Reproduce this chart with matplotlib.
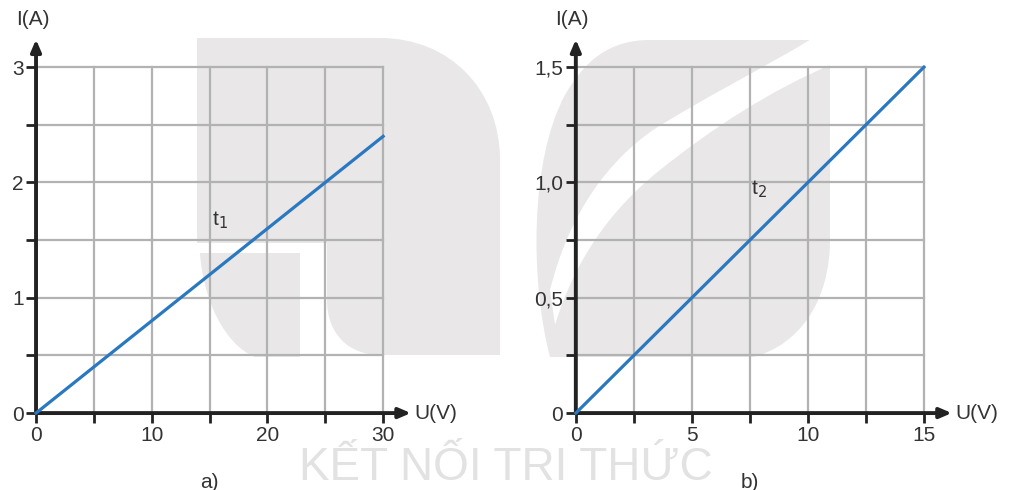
import matplotlib.pyplot as plt
from matplotlib.ticker import MultipleLocator
from matplotlib.path import Path
from matplotlib.patches import PathPatch

plt.rcParams['font.family'] = ['Liberation Sans', 'DejaVu Sans']

# data
u_a = [0, 30]
i_a = [0, 2.4]
u_b = [0, 15]
i_b = [0, 1.5]
xticks_a = [0, 10, 20, 30]
yticks_a = [0, 1, 2, 3]
xticks_b = [0, 5, 10, 15]
yticks_b = [0, 0.5, 1.0, 1.5]
ylabels_b = ['0', '0,5', '1,0', '1,5']

line_color = '#2a78c0'
grid_color = '#b2b2b2'
text_color = '#333333'
wm_color = '#e9e7e7'

fig = plt.figure(figsize=(10.12, 4.9), dpi=100)

# background watermark (logo shapes), in pixel coordinates
bg = fig.add_axes([0, 0, 1, 1], zorder=-1)
bg.set_xlim(0, 1012)
bg.set_ylim(490, 0)
bg.axis('off')

M, L, C, Z = Path.MOVETO, Path.LINETO, Path.CURVE4, Path.CLOSEPOLY


def shape(verts, codes, color):
    bg.add_patch(PathPatch(Path(verts, codes), facecolor=color, edgecolor='none'))


# left logo: top block + right leg
shape([(197, 38), (380, 38), (450, 38), (500, 90), (500, 160), (500, 355),
       (380, 355), (350, 355), (327, 335), (327, 300), (327, 243), (197, 243),
       (197, 38)],
      [M, L, C, C, C, L, L, C, C, C, L, L, Z], wm_color)
# left logo: stem
shape([(200, 253), (300, 253), (300, 357), (255, 357), (225, 345), (203, 300),
       (200, 253), (200, 253)],
      [M, L, L, L, C, C, C, Z], wm_color)
# right logo: leaf outline
shape([(550, 357), (530, 280), (530, 160), (565, 95), (585, 60), (610, 40),
       (650, 40), (813, 40), (825, 45), (830, 55), (830, 70), (830, 240),
       (830, 300), (800, 345), (753, 357), (550, 357), (550, 357)],
      [M, C, C, C, C, C, C, L, C, C, C, L, C, C, C, L, Z], wm_color)
# right logo: white band
shape([(813, 38), (760, 70), (700, 100), (653, 130), (610, 160), (570, 210),
       (550, 290), (555, 325), (575, 260), (610, 210), (660, 170), (710, 130),
       (770, 90), (835, 63), (835, 38), (813, 38)],
      [M, C, C, C, C, C, C, L, C, C, C, C, C, C, L, Z], 'white')

# watermark text
fig.text(0.50, 0.0, 'KẾT NỐI TRI THỨC', ha='center', va='bottom', fontsize=33,
         family=['Liberation Sans Narrow', 'Liberation Sans'], fontstretch='condensed',
         color='#e2e2e2', zorder=-0.5)


def setup(ax, xmax, ymax, xstep, ystep, xticks, yticks, ylabels, sub):
    ax.set_xlim(0, xmax)
    ax.set_ylim(0, ymax)
    ax.set_facecolor('none')
    for s in ax.spines.values():
        s.set_visible(False)
    ax.xaxis.set_minor_locator(MultipleLocator(xstep))
    ax.yaxis.set_minor_locator(MultipleLocator(ystep))
    ax.set_xticks(xticks)
    ax.set_yticks(yticks)
    ax.set_yticklabels(ylabels)
    ax.grid(True, which='both', color=grid_color, lw=1.6, clip_on=False)
    ax.tick_params(which='both', length=7, width=2, color='#222222',
                   labelsize=15, labelcolor=text_color, pad=2)
    # axes with arrows
    ax.annotate('', xy=(0, 1.08), xytext=(0, 0), xycoords='axes fraction',
                arrowprops=dict(arrowstyle='-|>,head_length=0.7,head_width=0.3',
                                lw=2.8, color='#222222', shrinkA=0, shrinkB=0))
    ax.annotate('', xy=(1.08, 0), xytext=(0, 0), xycoords='axes fraction',
                arrowprops=dict(arrowstyle='-|>,head_length=0.7,head_width=0.3',
                                lw=2.8, color='#222222', shrinkA=0, shrinkB=0))
    ax.text(-0.01, 1.11, 'I(A)', transform=ax.transAxes, fontsize=15,
            color=text_color, ha='center', va='bottom')
    ax.text(1.09, 0, 'U(V)', transform=ax.transAxes, fontsize=15,
            color=text_color, ha='left', va='center')
    ax.text(0.5, -0.2, sub, transform=ax.transAxes, fontsize=15,
            color=text_color, ha='center', va='center')


ax1 = fig.add_axes([0.0356, 0.157, 0.343, 0.706])
setup(ax1, 30, 3, 5, 0.5, xticks_a, yticks_a, [str(v) for v in yticks_a], 'a)')
ax1.plot(u_a, i_a, color=line_color, lw=2.3, clip_on=False, zorder=5)
ax1.text(15.9, 1.67, 't$_1$', fontsize=15, color=text_color, ha='center', va='center')

ax2 = fig.add_axes([0.569, 0.157, 0.344, 0.706])
setup(ax2, 15, 1.5, 2.5, 0.25, xticks_b, yticks_b, ylabels_b, 'b)')
ax2.plot(u_b, i_b, color=line_color, lw=2.3, clip_on=False, zorder=5)
ax2.text(7.9, 0.97, 't$_2$', fontsize=15, color=text_color, ha='center', va='center')

fig.savefig('out.png', dpi=100)
